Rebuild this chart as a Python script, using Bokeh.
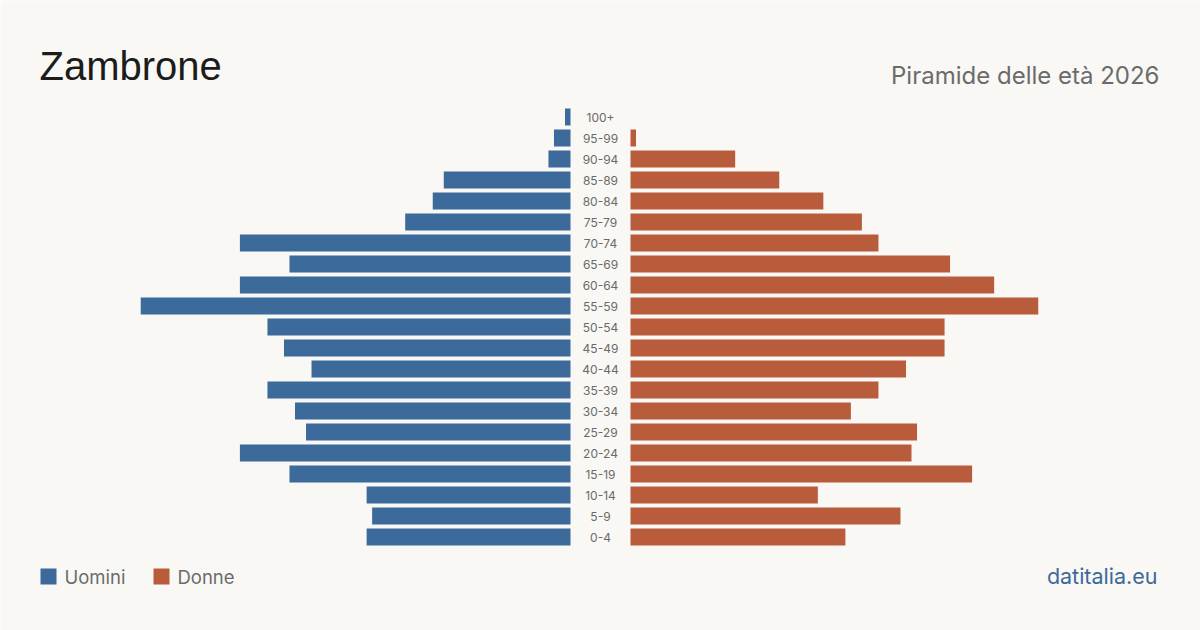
from bokeh.plotting import figure
from bokeh.models import ColumnDataSource, Range1d
from bokeh.core.properties import value
from bokeh.embed import file_html
from bokeh.resources import INLINE

# Age groups, youngest first
age_groups = ["0-4", "5-9", "10-14", "15-19", "20-24", "25-29", "30-34", "35-39",
              "40-44", "45-49", "50-54", "55-59", "60-64", "65-69", "70-74",
              "75-79", "80-84", "85-89", "90-94", "95-99", "100+"]
uomini = [37, 36, 37, 51, 60, 48, 50, 55, 47, 52, 55, 78, 60, 51, 60, 30, 25, 23, 4, 3, 1]
donne = [39, 49, 34, 62, 51, 52, 40, 45, 50, 57, 57, 74, 66, 58, 45, 42, 35, 27, 19, 1, 0]

W, H = 1200, 630
PX = 5.51           # pixels per person
ROW = 21            # pixels per age group
Y0 = 536.5          # pixel row of the youngest group
HALF_GAP = 30 / PX  # half of the central label column
BLUE = "#3b6a9b"
ORANGE = "#b95c3c"
BG = "#f9f8f4"

idx = list(range(len(age_groups)))
src = ColumnDataSource(dict(
    y=idx,
    age=age_groups,
    m_left=[-HALF_GAP - v for v in uomini],
    m_right=[-HALF_GAP] * len(idx),
    f_left=[HALF_GAP] * len(idx),
    f_right=[HALF_GAP + v for v in donne],
    zero=[0] * len(idx),
))

p = figure(width=W, height=H, output_backend="svg", toolbar_location=None,
           x_range=Range1d(-(W / 2) / PX, (W / 2) / PX),
           y_range=Range1d((Y0 - H) / ROW, Y0 / ROW),
           min_border=0, outline_line_color=None,
           background_fill_color=BG, border_fill_color=BG)
p.axis.visible = False
p.grid.visible = False

bar_h = 17 / ROW
p.hbar(y="y", left="m_left", right="m_right", height=bar_h, source=src,
       fill_color=BLUE, line_color=None)
p.hbar(y="y", left="f_left", right="f_right", height=bar_h, source=src,
       fill_color=ORANGE, line_color=None)
p.text(x="zero", y="y", text="age", source=src, text_align="center",
       text_baseline="middle", text_font=value("Inter"), text_font_size="12px",
       text_color="#6a6a6a")


def sx(px):
    return (px - W / 2) / PX


def sy(py):
    return (Y0 - py) / ROW


def page_text(x, y, text, size, color, font="Inter", align="left"):
    # y is the pixel row of the text baseline
    px = float(size.rstrip("px"))
    p.text(x=[sx(x)], y=[sy(y - 0.37 * px)], text=[text], text_font=value(font),
           text_font_size=size, text_color=color, text_align=align,
           text_baseline="alphabetic")


page_text(39, 80, "Zambrone", "40px", "#1c1c1c", font="Liberation Sans")
page_text(1159, 84, "Piramide delle età 2026", "24px", "#6b6b6b", align="right")
page_text(1157, 583, "datitalia.eu", "21.5px", BLUE, align="right")

# legend
for x0, color, name in [(40, BLUE, "Uomini"), (153, ORANGE, "Donne")]:
    p.rect(x=[sx(x0 + 8)], y=[sy(576)], width=16 / PX, height=16 / ROW,
           fill_color=color, line_color=None)
    page_text(x0 + 24, 583, name, "18.5px", "#6b6b6b")

open("out.html", "w").write(file_html(p, INLINE))
